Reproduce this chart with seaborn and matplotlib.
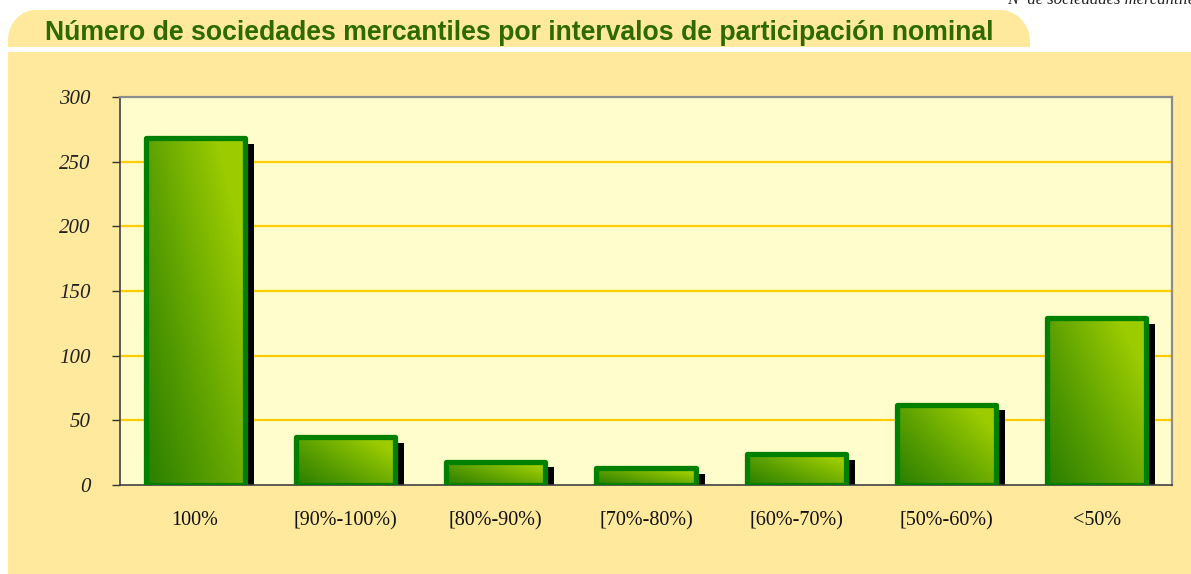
import matplotlib
matplotlib.use('Agg')
import matplotlib.pyplot as plt
import matplotlib.patheffects as pe
from matplotlib.patches import Rectangle, Polygon
from matplotlib.colors import to_rgb
import numpy as np
import pandas as pd
import seaborn as sns

# Data
intervalos = ['100%', '[90%-100%)', '[80%-90%)', '[70%-80%)',
              '[60%-70%)', '[50%-60%)', '<50%']
sociedades = [268, 37, 18, 13, 24, 62, 129]
y_ticks = [0, 50, 100, 150, 200, 250, 300]

titulo = 'Número de sociedades mercantiles por intervalos de participación nominal'
nota = 'Nº de sociedades mercantiles'

df = pd.DataFrame({'intervalo': intervalos, 'n': sociedades})

W, H = 1191, 574
sns.set_style('white')
fig = plt.figure(figsize=(W / 100, H / 100), dpi=100)
fig.patch.set_facecolor('white')

panel_col = '#FFE99D'


def px(x, y):
    # pixel position from top-left -> figure fraction
    return (x / W, 1 - y / H)


# Background panel
fig.patches.append(Rectangle(px(8, 574), 1, (H - 52) / H, transform=fig.transFigure,
                             facecolor=panel_col, edgecolor='none', zorder=-5))

# Title banner with rounded top corners
a = np.linspace(0, np.pi / 2, 30)
pts = [px(8, 47)]
pts += [px(8 + 28 * (1 - np.cos(t)), 10 + 30 * (1 - np.sin(t))) for t in a]
pts += [px(1000 + 30 * np.sin(t), 10 + 32 * (1 - np.cos(t))) for t in a]
pts += [px(1030, 47)]
fig.patches.append(Polygon(pts, closed=True, transform=fig.transFigure,
                           facecolor=panel_col, edgecolor='none', zorder=-5))

fig.text(45 / W, 1 - 33 / H, titulo, fontsize=19.2, fontweight='bold',
         color='#2F6A00', family='Liberation Sans', va='center', ha='left')
fig.text(1202 / W, 1 - 4 / H, nota, fontsize=12, style='italic',
         family='Liberation Serif', va='baseline', ha='right', color='#222222')

ax = fig.add_axes([120 / W, (H - 485) / H, 1052 / W, 388 / H])
ax.set_zorder(2)
ax.set_facecolor('#FFFDCB')

sns.barplot(data=df, x='intervalo', y='n', ax=ax, color='black',
            width=0.66, linewidth=0, zorder=2)

dark = np.array(to_rgb('#2A7E00'))
light = np.array(to_rgb('#9CCC00'))
for p in list(ax.patches):
    x0, y0 = p.get_x(), p.get_y()
    w, h = p.get_width(), p.get_height()
    p.set_path_effects([pe.SimplePatchShadow(offset=(6.5, -4),
                                             shadow_rgbFace='black', alpha=1)])
    u, v = np.meshgrid(np.linspace(0, 1, 60), np.linspace(0, 1, 60))
    t = np.clip(0.6 * u + 0.45 * v + 0.15 * u * v, 0, 1)[..., None]
    img = dark * (1 - t) + light * t
    im = ax.imshow(img, extent=[x0, x0 + w, y0, y0 + h], origin='lower',
                   aspect='auto', zorder=3, interpolation='bilinear')
    im.set_clip_path(p)
    ax.add_patch(Rectangle((x0, y0), w, h, facecolor='none',
                           edgecolor='#008000', linewidth=3.8,
                           joinstyle='round', zorder=4))

ax.set_ylim(0, 300)
ax.set_xlim(-0.5, len(intervalos) - 0.5)
ax.set_aspect('auto')

# grid
for yv in y_ticks[1:-1]:
    ax.axhline(yv, color='#FFCC00', linewidth=1.6, zorder=1)

ax.set_yticks(y_ticks)
ax.set_yticklabels([str(v) for v in y_ticks], fontsize=15, style='italic',
                   family='Liberation Serif', color='#222222')
ax.set_xticks(range(len(intervalos)))
ax.set_xticklabels(intervalos, fontsize=14.5, family='Liberation Serif',
                   color='#111111')
ax.set_xticks(np.arange(-0.5, len(intervalos), 1.0), minor=True)
ax.tick_params(axis='x', which='major', length=0, pad=19)
ax.tick_params(axis='x', which='minor', length=6, width=1, color='#333333',
               direction='out')
ax.tick_params(axis='y', length=6, width=1, color='#333333', direction='out',
               pad=15, left=True)
ax.set_xlabel('')
ax.set_ylabel('')

for s in ['left', 'bottom']:
    ax.spines[s].set_color('#404040')
    ax.spines[s].set_linewidth(1.2)
for s in ['top', 'right']:
    ax.spines[s].set_visible(True)
    ax.spines[s].set_color('#8C8C8C')
    ax.spines[s].set_linewidth(1.6)

fig.savefig('out.png', dpi=100, facecolor=fig.get_facecolor())
